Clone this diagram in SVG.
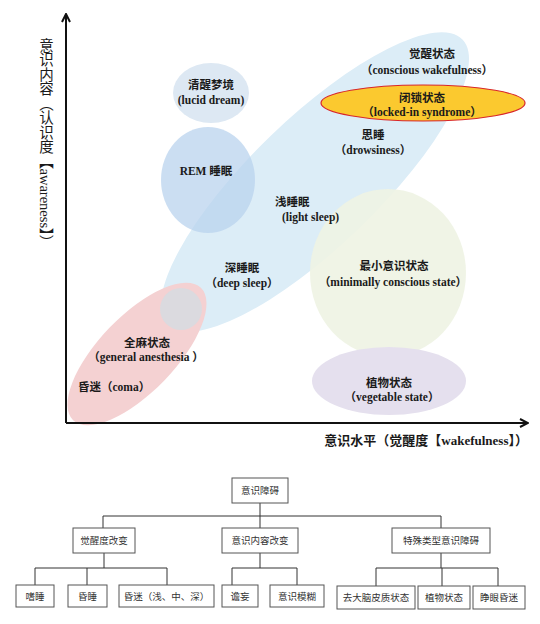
<svg xmlns="http://www.w3.org/2000/svg" width="540" height="624" viewBox="0 0 540 624">
<style>
.lbl{font-family:"Liberation Serif","Noto Sans CJK SC",serif;font-weight:700;font-size:11.5px;fill:#1a1a1a;text-anchor:middle}
.cj{font-family:"Noto Sans CJK SC","Liberation Serif",sans-serif;font-weight:700;font-size:11.5px;fill:#1a1a1a;text-anchor:middle}
.st{text-anchor:start}
.ax{font-family:"Liberation Serif","Noto Sans CJK SC",serif;font-weight:700;font-size:13px;fill:#1a1a1a}
.axv{font-family:"Liberation Serif","Noto Sans CJK SC",serif;font-weight:400;font-size:14.5px;fill:#1a1a1a;writing-mode:vertical-rl;text-orientation:mixed}
.box{fill:#fff;stroke:#555;stroke-width:1}
.bt{font-family:"Noto Sans CJK SC",sans-serif;font-size:9.5px;fill:#333;text-anchor:middle}
.ln{stroke:#333;stroke-width:1;fill:none}
</style>
<defs>
<marker id="arr" markerWidth="10" markerHeight="10" refX="8" refY="5" orient="auto" markerUnits="userSpaceOnUse">
<path d="M1,1 L9,5 L1,9" fill="none" stroke="#111" stroke-width="2"/>
</marker>
</defs>
<rect width="540" height="624" fill="#fff"/>

<g id="regions">
<ellipse id="awake-band" cx="315" cy="182" rx="205" ry="64" transform="rotate(-44 315 182)" fill="#dcedf7"/>
<ellipse id="mcs" cx="388" cy="273" rx="78" ry="84" fill="#eef3e3" fill-opacity="0.9"/>
<ellipse id="vegetable" cx="389" cy="381" rx="77" ry="34" fill="#e5e0ee"/>
<ellipse id="lucid" cx="211" cy="93" rx="38" ry="30" fill="#dde8f3"/>
<ellipse id="rem" cx="208" cy="180" rx="47" ry="53" fill="#b9d3ee" fill-opacity="0.75"/>
<ellipse id="anesthesia" cx="137" cy="354" rx="92" ry="38" transform="rotate(-46 137 354)" fill="#f4d1d2"/>
<circle id="overlap" cx="181" cy="309" r="21" fill="#dbdadf"/>
<ellipse id="locked" cx="423" cy="103" rx="102" ry="18" fill="#fbc92f" stroke="#d8262b" stroke-width="1.2"/>
</g>

<g id="axes">
<line x1="66" y1="423" x2="66" y2="15" stroke="#111" stroke-width="2" marker-end="url(#arr)"/>
<line x1="66" y1="423" x2="527" y2="423" stroke="#111" stroke-width="2" marker-end="url(#arr)"/>
<text class="axv" x="45" y="38">意识内容（认识度【awareness】）</text>
<text class="ax" x="528" y="445" text-anchor="end">意识水平（觉醒度【wakefulness】）</text>
</g>

<g id="labels">
<text class="cj" x="211" y="89">清醒梦境</text>
<text class="lbl" x="211" y="104">(lucid dream)</text>
<text class="lbl" x="206" y="175">REM 睡眠</text>
<text class="cj" x="432" y="58">觉醒状态</text>
<text class="lbl" x="427" y="74">（conscious wakefulness）</text>
<text class="cj" x="422" y="102">闭锁状态</text>
<text class="lbl" x="422" y="116">（locked-in syndrome）</text>
<text class="cj" x="373" y="139">思睡</text>
<text class="lbl" x="373" y="154">（drowsiness）</text>
<text class="cj st" x="275" y="206">浅睡眠</text>
<text class="lbl st" x="282" y="221">(light sleep)</text>
<text class="cj" x="242" y="272">深睡眠</text>
<text class="lbl" x="242" y="287">（deep sleep）</text>
<text class="cj" x="394" y="270">最小意识状态</text>
<text class="lbl" x="393" y="286">（minimally conscious state）</text>
<text class="cj" x="389" y="387">植物状态</text>
<text class="lbl" x="392" y="401">（vegetable state）</text>
<text class="cj" x="147" y="347">全麻状态</text>
<text class="lbl" x="146" y="361">（general anesthesia  ）</text>
<text class="lbl st" x="78" y="391">昏迷（coma）</text>
</g>

<g id="connectors">
<path class="ln" d="M260,503 V530 M103,516 H441 M103,516 V528 M441,516 V528"/>
<path class="ln" d="M104,553 V568 M35,568 H167 M35,568 V585 M87,568 V585 M167,568 V585"/>
<path class="ln" d="M260,553 V568 M232,568 H297 M232,568 V585 M297,568 V585"/>
<path class="ln" d="M441,553 V568 M376,568 H498 M376,568 V586 M442,568 V586 M498,568 V586"/>
</g>

<g id="n-root"><rect class="box" x="232" y="478" width="56" height="25"/><text class="bt" x="260" y="494">意识障碍</text></g>
<g id="n-arousal"><rect class="box" x="73" y="528" width="62" height="25"/><text class="bt" x="104" y="544">觉醒度改变</text></g>
<g id="n-content"><rect class="box" x="222" y="528" width="76" height="25"/><text class="bt" x="260" y="544">意识内容改变</text></g>
<g id="n-special"><rect class="box" x="392" y="528" width="98" height="25"/><text class="bt" x="441" y="544">特殊类型意识障碍</text></g>
<g id="n-somnolence"><rect class="box" x="16" y="585" width="38" height="22"/><text class="bt" x="35" y="599.5">嗜睡</text></g>
<g id="n-stupor"><rect class="box" x="68" y="585" width="39" height="22"/><text class="bt" x="87.5" y="599.5">昏睡</text></g>
<g id="n-coma"><rect class="box" x="119" y="585" width="95" height="22"/><text class="bt" x="166.5" y="599.5">昏迷（浅、中、深）</text></g>
<g id="n-delirium"><rect class="box" x="222" y="585" width="36" height="22"/><text class="bt" x="240" y="599.5">谵妄</text></g>
<g id="n-confusion"><rect class="box" x="270" y="585" width="54" height="22"/><text class="bt" x="297" y="599.5">意识模糊</text></g>
<g id="n-decorticate"><rect class="box" x="337" y="586" width="78" height="23"/><text class="bt" x="376" y="601">去大脑皮质状态</text></g>
<g id="n-vegetative"><rect class="box" x="418" y="586" width="52" height="23"/><text class="bt" x="444" y="601">植物状态</text></g>
<g id="n-coma-vigil"><rect class="box" x="473" y="586" width="52" height="23"/><text class="bt" x="499" y="601">睁眼昏迷</text></g>
</svg>
